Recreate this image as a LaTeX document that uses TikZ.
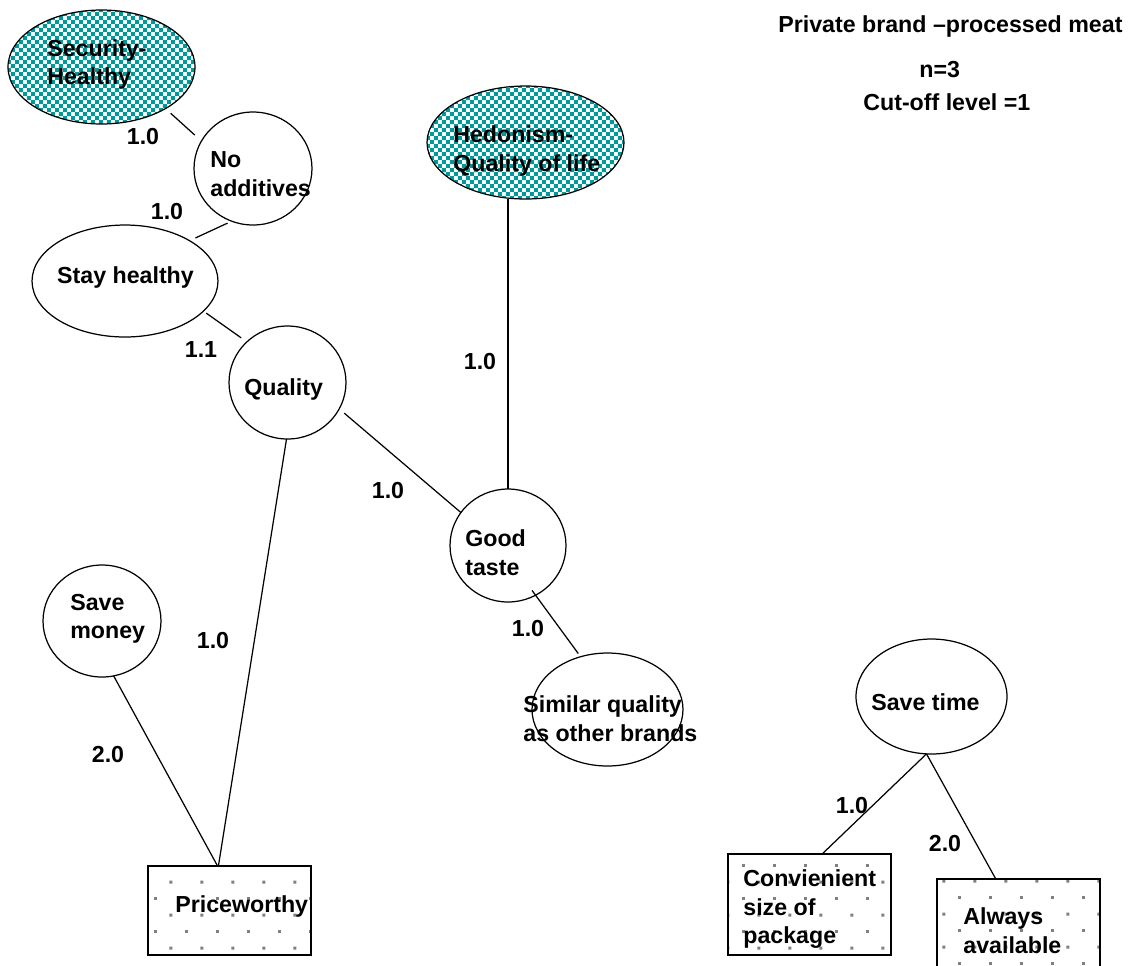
\documentclass[tikz,border=0pt]{standalone}
\usepackage{fontspec}
\setmainfont{Liberation Sans}
\usetikzlibrary{shapes.geometric,patterns}

% teal/white checkerboard for the value ellipses
\pgfdeclarepatternformonly{tealcheck}{\pgfqpoint{0pt}{0pt}}{\pgfqpoint{4.54pt}{4.54pt}}{\pgfqpoint{4.54pt}{4.54pt}}{%
  \pgfpathrectangle{\pgfqpoint{0pt}{0pt}}{\pgfqpoint{2.27pt}{2.27pt}}%
  \pgfpathrectangle{\pgfqpoint{2.27pt}{2.27pt}}{\pgfqpoint{2.27pt}{2.27pt}}%
  \pgfusepath{fill}}
% sparse staggered grey dots for the attribute boxes
\pgfdeclarepatternformonly{greydots}{\pgfqpoint{0pt}{0pt}}{\pgfqpoint{17.6pt}{18.7pt}}{\pgfqpoint{17.6pt}{18.7pt}}{%
  \pgfpathrectangle{\pgfqpoint{0pt}{0pt}}{\pgfqpoint{1.7pt}{1.7pt}}%
  \pgfpathrectangle{\pgfqpoint{8.8pt}{9.35pt}}{\pgfqpoint{1.7pt}{1.7pt}}%
  \pgfusepath{fill}}

\definecolor{valteal}{RGB}{0,153,153}
\definecolor{dotgrey}{RGB}{128,128,128}

\tikzset{
  lw/.style={line width=0.7pt},
  conseq/.style={ellipse, draw, lw, inner sep=0pt, outer sep=0pt},
  valueell/.style={conseq, pattern=tealcheck, pattern color=valteal},
  attrbox/.style={rectangle, draw, lw, inner sep=0pt, outer sep=0pt, pattern=greydots, pattern color=dotgrey},
  txt/.style={font=\bfseries\fontsize{13.2}{16.2}\selectfont, inner sep=0pt, align=left},
  wt/.style={font=\bfseries\fontsize{13.2}{16.2}\selectfont, inner sep=0pt},
  link/.style={draw, lw},
}

\begin{document}
\begin{tikzpicture}[x=0.02cm, y=-0.02cm]
\path[use as bounding box] (0,0) rectangle (1131,965);
\clip (0,0) rectangle (1131,965);

% ---- shapes ----
\node[valueell, minimum width=3.74cm, minimum height=2.28cm] (sec) at (101.5,67) {};
\node[conseq, minimum width=2.36cm, minimum height=2.26cm] (noadd) at (253,168.5) {};
\node[conseq, minimum width=3.72cm, minimum height=2.24cm] (stay) at (125,281) {};
\node[conseq, minimum width=2.34cm, minimum height=2.26cm] (qual) at (287.5,382.5) {};
\node[valueell, minimum width=3.94cm, minimum height=2.26cm] (hed) at (525.5,142.5) {};
\node[conseq, minimum width=2.32cm, minimum height=2.26cm] (good) at (508,545.5) {};
\node[conseq, minimum width=3.02cm, minimum height=2.26cm] (sim) at (607.5,709.5) {};
\node[conseq, minimum width=2.36cm, minimum height=2.24cm] (money) at (102,621) {};
\node[conseq, minimum width=3.02cm, minimum height=2.30cm] (time) at (931.5,696.5) {};
\node[attrbox, minimum width=3.26cm, minimum height=1.78cm] (price) at (229.5,910.5) {};
\node[attrbox, minimum width=3.26cm, minimum height=2.02cm] (conv) at (809.5,904.5) {};
\node[attrbox, minimum width=3.26cm, minimum height=2.04cm] (always) at (1018.5,930) {};

% ---- links ----
\draw[link, shorten <=0.14cm, shorten >=0.18cm] (sec.-33) -- (noadd.152);
\draw[link, shorten <=0.09cm, shorten >=0.13cm] (noadd.248) -- (stay.32);
\draw[link, shorten <=0.07cm, shorten >=0.14cm] (stay.-21.6) -- (qual.135);
\draw[link, shorten <=0.13cm] (qual.-27.8) -- (good.145.7);
\draw[link] (good.north |- hed.south) -- (good.north);
\draw[link, shorten <=-0.12cm, shorten >=0.08cm] (good.-61.9) -- (sim.117);
\draw[link] (qual.-91) -- (price.104.5);
\draw[link] (money.-78.9) -- (price.105.7);
\draw[link] (time.-95.5) -- (conv.76.1);
\draw[link] (time.-95.5) -- (always.114.7);

% ---- texts ----
\node[txt, anchor=north west] (tsec) at (47,39) {Security-\\Healthy};
\node[txt, anchor=north west] (tnoadd) at (210,151.5) {No\\additives};
\node[txt, anchor=base] (tstay) at (125.5,283) {Stay healthy};
\node[txt, anchor=base west] (tqual) at (244,395) {Quality};
\node[txt, anchor=north west] (thed) at (453,125.5) {Hedonism-\\Quality of life};
\node[txt, anchor=north west] (tgood) at (465,529.5) {Good\\taste};
\node[txt, anchor=north west] (tsim) at (523,695.5) {Similar quality\\as other brands};
\node[txt, anchor=north west] (tmoney) at (70,593.5) {Save\\money};
\node[txt, anchor=base west] (ttime) at (871,710) {Save time};
\node[txt, anchor=base west] (tprice) at (175,912) {Priceworthy};
\node[txt, anchor=north west] (tconv) at (743,869.5) {Convienient\\size of\\package};
\node[txt, anchor=north west] (talways) at (963,907.5) {Always\\available};

% ---- heading ----
\node[txt, anchor=base west] (title) at (778,32) {Private brand –processed meat};
\node[txt, anchor=base west] (nn) at (919,77) {n=3};
\node[txt, anchor=base west] (cut) at (863,110) {Cut-off level =1};

% ---- link weights ----
\node[wt] (w1) at (143,137) {1.0};
\node[wt] (w2) at (167,212) {1.0};
\node[wt] (w3) at (201,350) {1.1};
\node[wt] (w4) at (388,490) {1.0};
\node[wt] (w5) at (480,362) {1.0};
\node[wt] (w6) at (528,628) {1.0};
\node[wt] (w7) at (213,640) {1.0};
\node[wt] (w8) at (108,754) {2.0};
\node[wt] (w9) at (852,805) {1.0};
\node[wt] (w10) at (945,843) {2.0};
\end{tikzpicture}
\end{document}
